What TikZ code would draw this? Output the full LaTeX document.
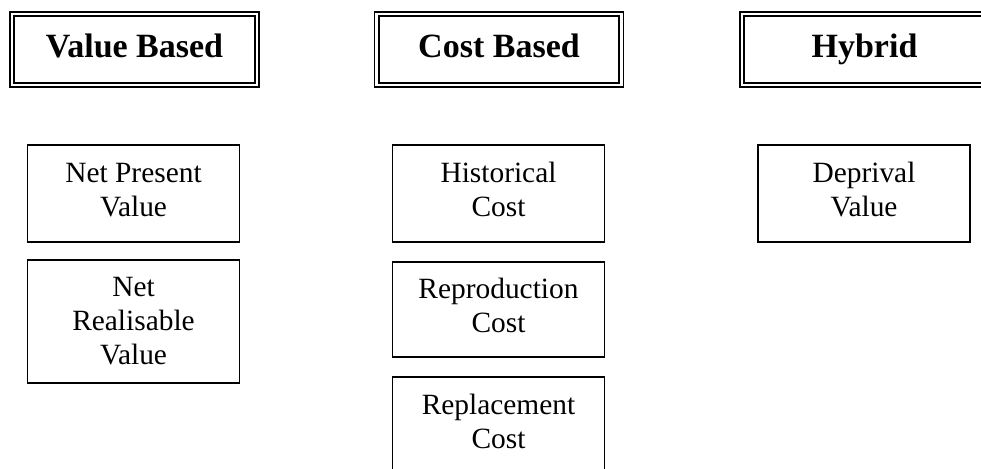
\documentclass[tikz,border=0pt]{standalone}
\usepackage{fontspec}
\setmainfont{Liberation Serif}
\begin{document}
\begin{tikzpicture}[x=1pt,y=-1pt,
  hdr/.style={draw, double, line width=1.8pt, double distance=2.5pt,
    minimum width=244.6pt, minimum height=70.6pt, inner sep=0pt,
    text height=24pt, text depth=8.4pt,
    font=\fontsize{34}{40}\selectfont\bfseries},
  item/.style={draw, line width=1.3pt, minimum width=212pt, inner sep=0pt,
    align=center, font=\fontsize{29.4}{34}\selectfont},
  twoline/.style={execute at end node={\rule[-7.5pt]{0pt}{7.5pt}}}]
\path[use as bounding box] (0,0) rectangle (981,468);
\clip (0,0) rectangle (981,468);
% headers
\node[hdr] (vb) at (134.5,49.5) {Value Based};
\node[hdr] (cb) at (499,49.5) {Cost Based};
\node[hdr] (hy) at (864.5,49.5) {Hybrid};
% value based column
\node[item, twoline, minimum height=97pt] (npv) at (133.5,193.5) {Net Present\\Value};
\node[item, minimum height=123pt] (nrv) at (133.5,321.5) {Net\\Realisable\\Value};
% cost based column
\node[item, twoline, minimum height=97pt] (hc) at (498.5,193.5) {Historical\\Cost};
\node[item, twoline, minimum height=95pt] (rpc) at (498.5,309.5) {Reproduction\\Cost};
\node[item, twoline, minimum height=97pt] (rlc) at (498.5,425.5) {Replacement\\Cost};
% hybrid column
\node[item, twoline, minimum height=97pt] (dv) at (864,193.5) {Deprival\\Value};
\end{tikzpicture}
\end{document}
